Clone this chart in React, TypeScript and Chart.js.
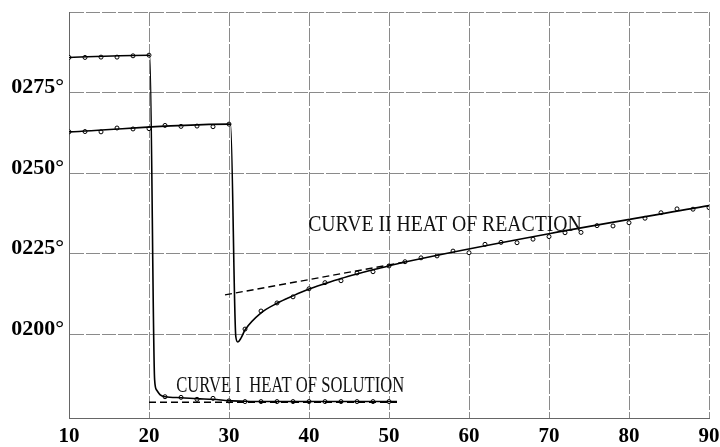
import React, { useEffect, useRef } from 'react';
import { Chart, registerables } from 'chart.js';

Chart.register(...registerables);

// Axes
const xTickValues = [10, 20, 30, 40, 50, 60, 70, 80, 90];
const yTickValues = [200, 225, 250, 275, 300];
const yTickLabels = ['0200°', '0225°', '0250°', '0275°', ''];

// Curve I – heat of solution (observed points)
const solPointX = [10, 12, 14, 16, 18, 20, 22, 24, 26, 28, 30, 32, 34, 36, 38, 40, 42, 44, 46, 48, 50];
const solPointY = [285.9, 285.9, 286.0, 286.0, 286.4, 286.6, 180.6, 180.4, 179.8, 180.1, 179.3, 179.1, 179.1, 179.1, 179.1, 179.1, 179.1, 179.1, 179.1, 179.1, 179.1];
// Curve I – drawn curve
const solLineX = [10, 20, 20.1, 20.7, 20.95, 21.4, 22, 24, 26, 28, 30, 32, 34, 40, 46, 51];
const solLineY = [285.9, 286.6, 286.6, 186.0, 182.7, 181.2, 180.6, 180.3, 180.0, 179.8, 179.4, 179.2, 179.1, 179.1, 179.1, 179.1];
// Curve I – dashed extrapolation
const solDashX = [20, 51];
const solDashY = [178.9, 178.9];

// Curve II – heat of reaction (observed points)
const reaPointX = [10, 12, 14, 16, 18, 20, 22, 24, 26, 28, 30,
  32, 34, 36, 38, 40, 42, 44, 46, 48, 50, 52, 54, 56, 58, 60, 62, 64, 66, 68, 70, 72, 74, 76, 78, 80, 82, 84, 86, 88, 90];
const reaPointY = [262.8, 262.9, 262.8, 264.0, 263.7, 263.8, 264.8, 264.5, 264.6, 264.4, 265.2,
  201.6, 207.2, 209.7, 211.6, 214.1, 216.0, 216.6, 219.0, 219.4, 221.2, 222.5, 223.7, 224.3, 225.8, 225.3, 227.9, 228.5, 228.4, 229.5, 230.3, 231.5, 231.6, 233.7, 233.6, 234.6, 236.0, 237.7, 238.9, 238.8, 239.3];
// Curve II – drawn curve
const reaLineX = [10, 30, 30.2, 30.85, 31.1, 31.5, 32, 34, 36, 38, 40, 42, 44, 46, 48, 50, 52, 70, 90];
const reaLineY = [262.8, 265.2, 265.2, 199.3, 197.6, 198.8, 201.3, 206.6, 209.6, 211.9, 214.0, 215.7, 217.3, 218.7, 220.0, 221.2, 222.4, 231.2, 239.9];
// Curve II – dashed extrapolation
const reaDashX = [29.5, 52];
const reaDashY = [212.2, 222.4];

// Curve captions
const captionText = ['CURVE I  HEAT OF SOLUTION', 'CURVE II HEAT OF REACTION'];

const zip = (xs: number[], ys: number[]) => xs.map((x, i) => ({ x, y: ys[i] }));

// caption anchors (data coords): left x, right x, baseline y
const captionAnchors = [
  { x0: 23.4, x1: 51.9, y: 182.1, size: 23 },
  { x0: 39.9, x1: 74.1, y: 232.0, size: 24 },
];

const captionPlugin = {
  id: 'captions',
  afterDatasetsDraw(chart: any) {
    const { ctx, scales } = chart;
    const xs = scales.x;
    const ys = scales.y;
    captionText.forEach((t, i) => {
      const a = captionAnchors[i];
      const px0 = xs.getPixelForValue(a.x0);
      const px1 = xs.getPixelForValue(a.x1);
      const py = ys.getPixelForValue(a.y);
      ctx.save();
      ctx.font = `${a.size}px "Liberation Serif"`;
      const w = ctx.measureText(t).width;
      ctx.translate(px0, py);
      ctx.scale((px1 - px0) / w, 1);
      ctx.fillStyle = '#111';
      ctx.textBaseline = 'alphabetic';
      ctx.textAlign = 'left';
      ctx.fillText(t, 0, 0);
      ctx.restore();
    });
  },
};

const zeroPad = (s: any) => {
  s.paddingTop = 0;
  s.paddingBottom = 0;
  s.paddingLeft = 0;
  s.paddingRight = 0;
};

export default function App() {
  const ref = useRef<HTMLCanvasElement | null>(null);

  useEffect(() => {
    document.body.style.margin = '0';
    const canvas = ref.current;
    if (!canvas) return;
    const lineStyle = {
      borderColor: '#000',
      borderWidth: 1.6,
      pointRadius: 0,
      showLine: true,
      fill: false,
      cubicInterpolationMode: 'monotone' as const,
    };
    const dashStyle = {
      borderColor: '#000',
      borderWidth: 1.4,
      borderDash: [7, 4],
      pointRadius: 0,
      showLine: true,
      fill: false,
      tension: 0,
    };
    const pointStyle = {
      showLine: false,
      pointRadius: 2,
      pointBackgroundColor: '#fff',
      pointBorderColor: '#000',
      pointBorderWidth: 1,
    };
    const chart = new Chart(canvas, {
      type: 'scatter',
      data: {
        datasets: [
          { label: 'Curve I line', data: zip(solLineX, solLineY), ...lineStyle },
          { label: 'Curve I dashed', data: zip(solDashX, solDashY), ...dashStyle },
          { label: 'Curve II line', data: zip(reaLineX, reaLineY), ...lineStyle },
          { label: 'Curve II dashed', data: zip(reaDashX, reaDashY), ...dashStyle },
          { label: 'Curve I points', data: zip(solPointX, solPointY), ...pointStyle },
          { label: 'Curve II points', data: zip(reaPointX, reaPointY), ...pointStyle },
        ] as any,
      },
      options: {
        animation: false,
        responsive: false,
        layout: { padding: { top: 12, right: 11, left: 0, bottom: 0 } },
        plugins: { legend: { display: false }, tooltip: { enabled: false } },
        scales: {
          x: {
            type: 'linear',
            min: 10,
            max: 90,
            afterBuildTicks: (s: any) => { s.ticks = xTickValues.map((v) => ({ value: v })); },
            afterFit: (s: any) => { s.height = 29; zeroPad(s); },
            grid: { color: '#8a8a8a', lineWidth: 1, drawTicks: false },
            border: { display: true, color: '#666', dash: [14, 2] },
            ticks: {
              padding: 6,
              color: '#000',
              font: { family: '"Liberation Serif"', size: 21, weight: 'bold' },
              callback: (v: any) => String(v),
            },
          },
          y: {
            type: 'linear',
            min: 174,
            max: 300,
            afterBuildTicks: (s: any) => { s.ticks = yTickValues.map((v) => ({ value: v })); },
            afterFit: (s: any) => { s.width = 69; zeroPad(s); },
            grid: { color: '#8a8a8a', lineWidth: 1, drawTicks: false },
            border: { display: true, color: '#666', dash: [14, 2] },
            ticks: {
              padding: 5,
              labelOffset: -5,
              color: '#000',
              font: { family: '"Liberation Serif"', size: 22, weight: 'bold' },
              callback: (v: any) => {
                const i = yTickValues.indexOf(Number(v));
                return i >= 0 ? yTickLabels[i] : '';
              },
            },
          },
        },
      } as any,
      plugins: [captionPlugin],
    });
    return () => chart.destroy();
  }, []);

  return (
    <div style={{ position: 'absolute', left: 0, top: 0, width: 720, height: 447 }}>
      <canvas ref={ref} width={720} height={447} />
    </div>
  );
}
